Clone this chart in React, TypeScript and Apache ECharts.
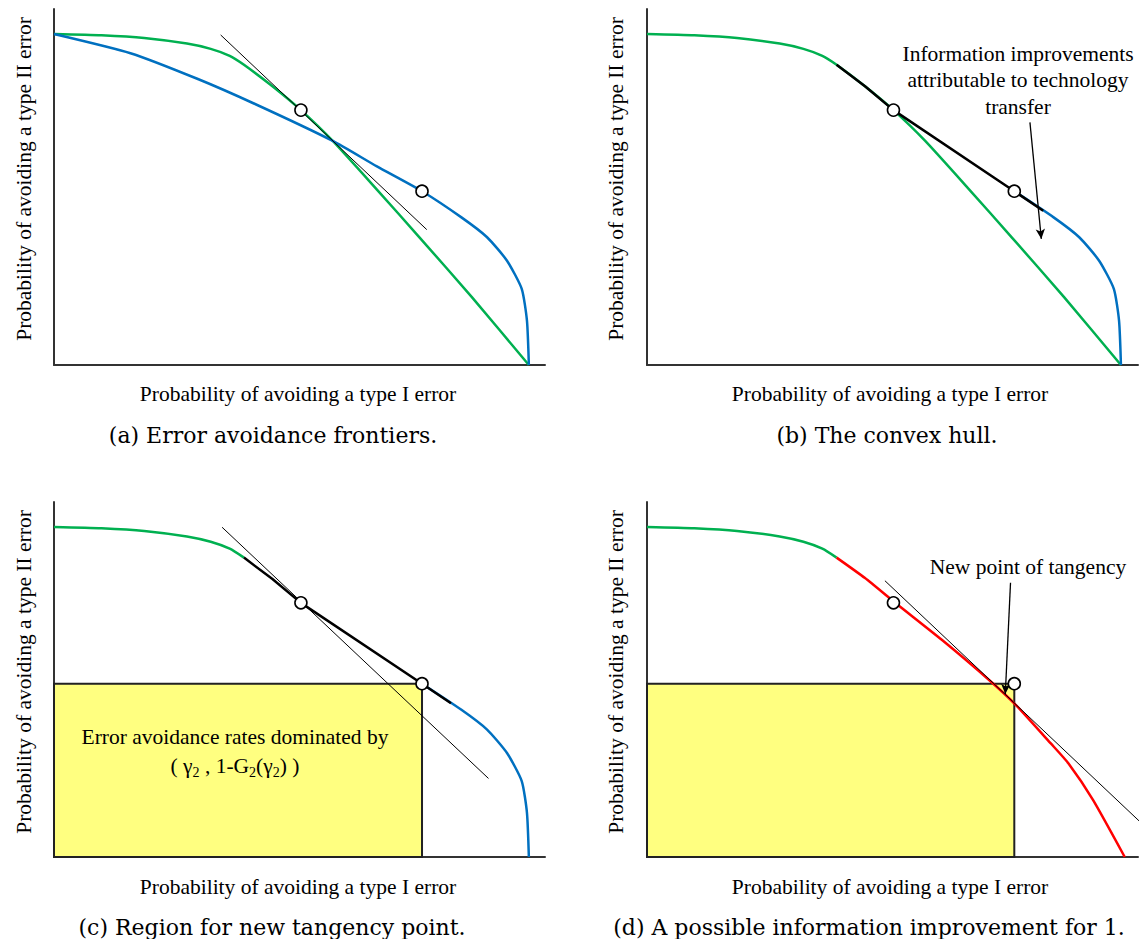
import React, { useEffect, useRef } from "react";
import * as echarts from "echarts";

// Normalised frontier coordinates (x: P(avoid type I error), y: P(avoid type II error))
const greenX = [0, 0.1, 0.19, 0.28, 0.33, 0.37, 0.4, 0.46, 0.52, 0.587, 0.68, 0.77, 0.88, 1.0];
const greenY = [1, 0.996, 0.988, 0.971, 0.955, 0.934, 0.907, 0.842, 0.77, 0.677, 0.53, 0.385, 0.205, 0];
const blueX = [0, 0.161, 0.303, 0.421, 0.587, 0.68, 0.775, 0.858, 0.912, 0.954, 0.985, 0.996, 1.0];
const blueY = [1, 0.942, 0.864, 0.79, 0.677, 0.6, 0.525, 0.446, 0.386, 0.315, 0.23, 0.134, 0];
const hullX = [0.4, 0.46, 0.52, 0.775, 0.836];
const hullY = [0.907, 0.842, 0.77, 0.525, 0.466];
const redX = [0.4, 0.46, 0.523, 0.622, 0.726, 0.78, 0.852, 0.889, 0.941, 1.008];
const redY = [0.907, 0.845, 0.771, 0.658, 0.531, 0.458, 0.344, 0.284, 0.173, 0];
const pointX = [0.52, 0.775];
const pointY = [0.77, 0.525];
const tangentAX = [0.351, 0.785];
const tangentAY = [0.997, 0.409];
const tangentCX = [0.354, 0.915];
const tangentCY = [0.999, 0.238];
const tangentDX = [0.502, 1.04];
const tangentDY = [0.837, 0.107];
const arrowBX = [0.808, 0.832];
const arrowBY = [0.733, 0.381];
const arrowDX = [0.767, 0.756];
const arrowDY = [0.831, 0.494];

const xLabel = "Probability of avoiding a type I error";
const yLabel = "Probability of avoiding a type II error";
const captions = [
  "(a) Error avoidance frontiers.",
  "(b) The convex hull.",
  "(c) Region for new tangency point.",
  "(d) A possible information improvement for 1.",
];

const GREEN = "#00b050";
const BLUE = "#0070c0";
const RED = "#ff0000";
const TIMES = "'Liberation Serif', 'Times New Roman', serif";
const CM = "'DejaVu Serif', serif";

const pairs = (xs: number[], ys: number[]) => xs.map((x, i) => [x, ys[i]]);

export default function App() {
  const ref = useRef<HTMLDivElement>(null);
  useEffect(() => {
    if (!ref.current) return;
    const chart = echarts.init(ref.current, undefined, { renderer: "svg" });

    const grids = [
      { left: 54, top: 9, width: 491, height: 356 },
      { left: 647, top: 9, width: 491, height: 356 },
      { left: 54, top: 502, width: 491, height: 355 },
      { left: 647, top: 502, width: 491, height: 355 },
    ];
    const xMax = [1.034, 1.036, 1.034, 1.036];
    const axisLine = { show: true, onZero: false, lineStyle: { color: "#333", width: 2 } };

    const line = (g: number, data: number[][], color: string, width: number, z: number, smooth: number | boolean = false) => ({
      type: "line",
      xAxisIndex: g,
      yAxisIndex: g,
      data,
      symbol: "none",
      showSymbol: false,
      silent: true,
      smooth,
      lineStyle: { color, width },
      z,
    });
    const points = (g: number) => ({
      type: "scatter",
      xAxisIndex: g,
      yAxisIndex: g,
      data: pairs(pointX, pointY),
      symbol: "circle",
      symbolSize: 12,
      silent: true,
      itemStyle: { color: "#ffffff", borderColor: "#000", borderWidth: 1.6, opacity: 1 },
      z: 10,
    });
    const rect = (g: number) => ({
      type: "line",
      xAxisIndex: g,
      yAxisIndex: g,
      data: [],
      symbol: "none",
      silent: true,
      z: 1,
      markArea: {
        silent: true,
        itemStyle: { color: "#ffff80", opacity: 1, borderColor: "#222", borderWidth: 2 },
        data: [[{ coord: [0, 0] }, { coord: [pointX[1], pointY[1]] }]],
      },
    });
    const arrow = (g: number, xs: number[], ys: number[]) => ({
      type: "line",
      xAxisIndex: g,
      yAxisIndex: g,
      data: [],
      symbol: "none",
      silent: true,
      z: 9,
      markLine: {
        silent: true,
        symbol: ["none", "arrow"],
        symbolSize: [7, 10],
        label: { show: false },
        lineStyle: { color: "#000", width: 1.3, type: "solid" },
        data: [[{ coord: [xs[0], ys[0]] }, { coord: [xs[1], ys[1]] }]],
      },
    });

    const greenHead = pairs(greenX, greenY).filter((p) => p[0] <= 0.4);
    const blueTail = pairs(blueX, blueY).filter((p) => p[0] >= 0.775);

    const S = 0.2;
    const series: any[] = [
      // (a)
      line(0, pairs(greenX, greenY), GREEN, 2.5, 3, S),
      line(0, pairs(blueX, blueY), BLUE, 2.5, 4, S),
      line(0, pairs(tangentAX, tangentAY), "#000", 1, 5),
      points(0),
      // (b)
      line(1, pairs(greenX, greenY), GREEN, 2.5, 3, S),
      line(1, blueTail, BLUE, 2.5, 4, S),
      line(1, pairs(hullX, hullY), "#000", 2.5, 5),
      points(1),
      arrow(1, arrowBX, arrowBY),
      // (c)
      rect(2),
      line(2, greenHead, GREEN, 2.5, 3, S),
      line(2, blueTail, BLUE, 2.5, 4, S),
      line(2, pairs(hullX, hullY), "#000", 2.5, 5),
      line(2, pairs(tangentCX, tangentCY), "#000", 1, 6),
      points(2),
      // (d)
      rect(3),
      line(3, greenHead, GREEN, 2.5, 3, S),
      line(3, pairs(redX, redY), RED, 2.5, 4, S),
      line(3, pairs(tangentDX, tangentDY), "#000", 1, 6),
      points(3),
      arrow(3, arrowDX, arrowDY),
    ];

    const txt = (x: number, y: number, text: string, size: number, family: string, rot = 0, extra: any = {}) => ({
      type: "text",
      x,
      y,
      rotation: rot,
      silent: true,
      z: 100,
      style: {
        text,
        fontSize: size,
        fontFamily: family,
        fill: "#000",
        align: "center",
        verticalAlign: "middle",
        ...extra,
      },
    });

    const graphic: any[] = [
      txt(298, 394, xLabel, 21.5, TIMES),
      txt(890, 394, xLabel, 21.5, TIMES),
      txt(298, 887, xLabel, 21.5, TIMES),
      txt(890, 887, xLabel, 21.5, TIMES),
      txt(24, 179, yLabel, 21.5, TIMES, Math.PI / 2),
      txt(616, 179, yLabel, 21.5, TIMES, Math.PI / 2),
      txt(24, 672, yLabel, 21.5, TIMES, Math.PI / 2),
      txt(616, 672, yLabel, 21.5, TIMES, Math.PI / 2),
      txt(273, 435, captions[0], 22, CM),
      txt(887, 435, captions[1], 22, CM),
      txt(272, 927, captions[2], 22, CM),
      txt(869, 927, captions[3], 22, CM),
      txt(1018, 80, "Information improvements\nattributable to technology\ntransfer", 21.5, TIMES, 0, {
        lineHeight: 26.5,
      }),
      txt(1028, 567, "New point of tangency", 21.5, TIMES),
      txt(235, 737, "Error avoidance rates dominated by", 21.5, TIMES),
      txt(235, 766, "( {g|γ}{s|2} , 1-G{s|2}({g|γ}{s|2}) )", 21.5, TIMES, 0, {
        lineHeight: 26,
        rich: {
          g: { fontSize: 21.5, fontFamily: TIMES, lineHeight: 26 },
          s: { fontSize: 14, fontFamily: TIMES, lineHeight: 14, verticalAlign: "bottom" },
        },
      }),
    ];

    chart.setOption({
      animation: false,
      backgroundColor: "#fff",
      grid: grids,
      xAxis: grids.map((_, i) => ({
        type: "value",
        gridIndex: i,
        min: 0,
        max: xMax[i],
        axisLine,
        axisTick: { show: false },
        axisLabel: { show: false },
        splitLine: { show: false },
      })),
      yAxis: grids.map((_, i) => ({
        type: "value",
        gridIndex: i,
        min: 0,
        max: 1.0755,
        axisLine,
        axisTick: { show: false },
        axisLabel: { show: false },
        splitLine: { show: false },
      })),
      series,
      graphic,
    });
    return () => chart.dispose();
  }, []);

  return (
    <div
      ref={ref}
      style={{ position: "absolute", left: 0, top: 0, width: 1139, height: 939, background: "#fff" }}
    />
  );
}
